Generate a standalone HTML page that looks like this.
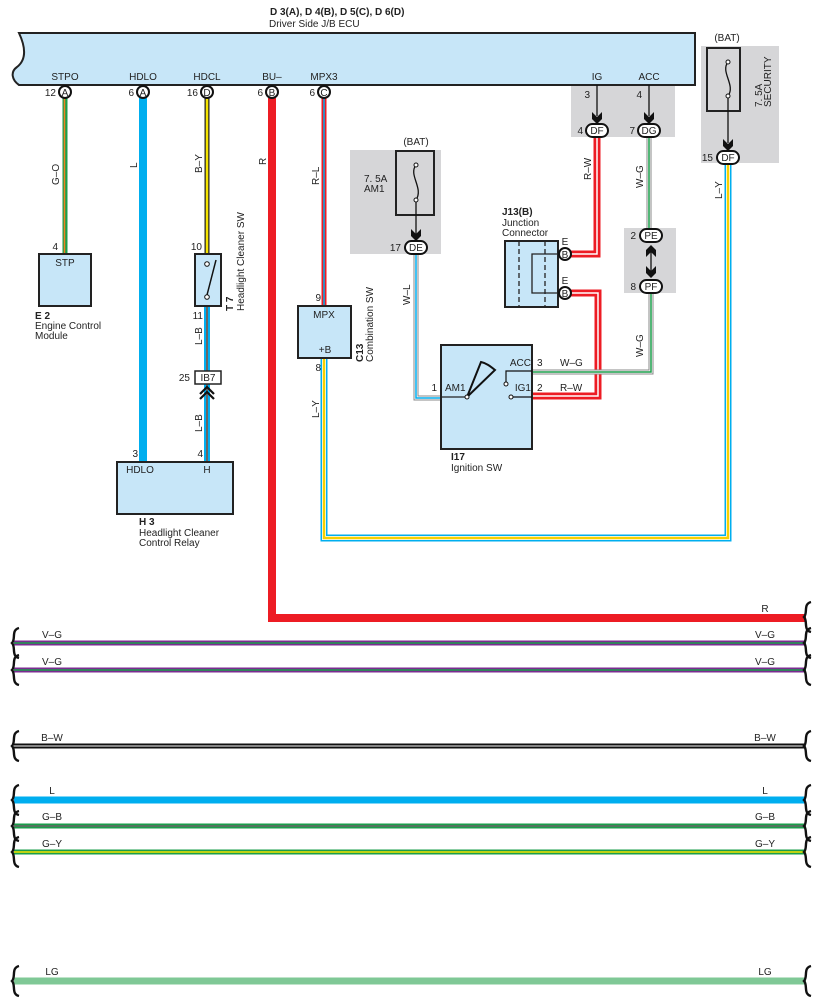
<!DOCTYPE html>
<html><head><meta charset="utf-8"><style>
html,body{margin:0;padding:0;background:#fff}
svg{display:block}
text{font-family:"Liberation Sans",sans-serif;font-size:10px;fill:#222}
.b{font-weight:bold}
</style></head><body>
<svg width="818" height="1003" viewBox="0 0 818 1003" xmlns="http://www.w3.org/2000/svg">
<defs>
<path id="brace" d="M6,-15 C-2,-13 3,-4 -1,0 C3,4 -2,13 6,15" fill="none" stroke="#111" stroke-width="2.4"/>
<path id="arr" d="M-5,-8 L0,-3 L5,-8 L5,-1 L0,4 L-5,-1 Z" fill="#111"/>
<path id="arrUp" d="M-5,8 L0,3 L5,8 L5,1 L0,-4 L-5,1 Z" fill="#111"/>
</defs>
<!-- gray boxes -->
<rect x="571" y="85" width="104" height="52" fill="#d6d6d8"/>
<rect x="701" y="46" width="78" height="117" fill="#d6d6d8"/>
<rect x="350" y="150" width="91" height="104" fill="#d6d6d8"/>
<rect x="624" y="228" width="52" height="65" fill="#d6d6d8"/>

<!-- ECU -->
<path d="M19,33 H695 V85 H19 C12,80 10,72 17,67 C26,60 26,48 19,33 Z" fill="#c7e6f8" stroke="#222" stroke-width="2"/>
<text x="270" y="15" class="b">D 3(A), D 4(B), D 5(C), D 6(D)</text>
<text x="269" y="27">Driver Side J/B ECU</text>
<g text-anchor="middle">
<text x="65" y="80">STPO</text><text x="143" y="80">HDLO</text><text x="207" y="80">HDCL</text>
<text x="272" y="80">BU–</text><text x="324" y="80">MPX3</text><text x="597" y="80">IG</text><text x="649" y="80">ACC</text>
</g>

<!-- wires from ECU -->
<line x1="65" y1="98" x2="65" y2="253" stroke="#1a9e4a" stroke-width="5"/>
<line x1="64.5" y1="98" x2="64.5" y2="253" stroke="#f08020" stroke-width="1.5"/>
<line x1="143" y1="98" x2="143" y2="461" stroke="#00aeef" stroke-width="8"/>
<line x1="207" y1="98" x2="207" y2="253" stroke="#222" stroke-width="5"/>
<line x1="207" y1="98" x2="207" y2="253" stroke="#f5e400" stroke-width="2.5"/>
<line x1="207" y1="306" x2="207" y2="461" stroke="#00aeef" stroke-width="6"/>
<line x1="207" y1="306" x2="207" y2="461" stroke="#666" stroke-width="2"/>
<path d="M272,98 V618 H806" fill="none" stroke="#ed1c24" stroke-width="8"/>
<line x1="324" y1="98" x2="324" y2="305" stroke="#ed1c24" stroke-width="5"/>
<line x1="324" y1="98" x2="324" y2="305" stroke="#00aeef" stroke-width="1.5"/>
<!-- L-Y -->
<path d="M324,358 V538 H728 V163" fill="none" stroke="#00aeef" stroke-width="7"/>
<path d="M324,358 V538 H728 V163" fill="none" stroke="#fff" stroke-width="4"/>
<path d="M324,358 V538 H728 V163" fill="none" stroke="#f5d000" stroke-width="2.5"/>
<!-- R-W -->
<path d="M597,137 V254 H570 M570,293 H598 V396 H532" fill="none" stroke="#ed1c24" stroke-width="7"/>
<path d="M597,137 V254 H570 M570,293 H598 V396 H532" fill="none" stroke="#fff" stroke-width="1.5"/>
<!-- W-G -->
<path d="M649,137 V228 M651,293 V372 H532" fill="none" stroke="#888" stroke-width="5"/>
<path d="M649,137 V228 M651,293 V372 H532" fill="none" stroke="#fff" stroke-width="3"/>
<path d="M649,137 V228 M651,293 V372 H532" fill="none" stroke="#1a9e4a" stroke-width="1.5"/>
<!-- W-L -->
<path d="M416,254 V398 H441" fill="none" stroke="#888" stroke-width="5"/>
<path d="M416,254 V398 H441" fill="none" stroke="#fff" stroke-width="3"/>
<path d="M416,254 V398 H441" fill="none" stroke="#00aeef" stroke-width="1.5"/>

<!-- pins on ECU -->
<g fill="#fff" stroke="#111" stroke-width="2">
<circle cx="65" cy="92" r="6"/><circle cx="143" cy="92" r="6"/><circle cx="207" cy="92" r="6"/><circle cx="272" cy="92" r="6"/><circle cx="324" cy="92" r="6"/>
</g>
<g text-anchor="middle" font-size="9">
<text x="65" y="96">A</text><text x="143" y="96">A</text><text x="207" y="96">D</text><text x="272" y="96">B</text><text x="324" y="96">C</text>
</g>
<g text-anchor="end">
<text x="56" y="96">12</text><text x="134" y="96">6</text><text x="198" y="96">16</text><text x="263" y="96">6</text><text x="315" y="96">6</text>
</g>

<!-- wire labels vertical -->
<g>
<text transform="translate(59,185) rotate(-90)">G–O</text>
<text transform="translate(137,168) rotate(-90)">L</text>
<text transform="translate(202,173) rotate(-90)">B–Y</text>
<text transform="translate(266,165) rotate(-90)">R</text>
<text transform="translate(319,185) rotate(-90)">R–L</text>
<text transform="translate(202,345) rotate(-90)">L–B</text>
<text transform="translate(202,432) rotate(-90)">L–B</text>
<text transform="translate(319,418) rotate(-90)">L–Y</text>
<text transform="translate(591,180) rotate(-90)">R–W</text>
<text transform="translate(643,188) rotate(-90)">W–G</text>
<text transform="translate(643,357) rotate(-90)">W–G</text>
<text transform="translate(410,305) rotate(-90)">W–L</text>
<text transform="translate(722,199) rotate(-90)">L–Y</text>
</g>

<!-- E2 -->
<rect x="39" y="254" width="52" height="52" fill="#c7e6f8" stroke="#222" stroke-width="2"/>
<text x="65" y="266" text-anchor="middle">STP</text>
<text x="58" y="250" text-anchor="end">4</text>
<text x="35" y="319" class="b">E 2</text>
<text x="35" y="329">Engine Control</text><text x="35" y="339">Module</text>

<!-- T7 -->
<rect x="195" y="254" width="26" height="52" fill="#c7e6f8" stroke="#222" stroke-width="2"/>
<circle cx="207" cy="264" r="2.3" fill="#fff" stroke="#111"/><circle cx="207" cy="297" r="2.3" fill="#fff" stroke="#111"/>
<line x1="207" y1="295" x2="216" y2="260" stroke="#111" stroke-width="1.5"/>
<text x="202" y="250" text-anchor="end">10</text>
<text x="203" y="319" text-anchor="end">11</text>
<text transform="translate(233,311) rotate(-90)" class="b">T 7</text>
<text transform="translate(244,311) rotate(-90)">Headlight Cleaner SW</text>

<!-- IB7 -->
<rect x="195" y="371" width="26" height="13" fill="#fff" stroke="#222" stroke-width="1.5"/>
<text x="208" y="381" text-anchor="middle">IB7</text>
<text x="190" y="381" text-anchor="end">25</text>
<path d="M200,394 L207,387 L214,394 M200,399 L207,392 L214,399" fill="none" stroke="#111" stroke-width="2.2"/>

<!-- H3 -->
<rect x="117" y="462" width="116" height="52" fill="#c7e6f8" stroke="#222" stroke-width="2"/>
<text x="140" y="473" text-anchor="middle">HDLO</text><text x="207" y="473" text-anchor="middle">H</text>
<text x="138" y="457" text-anchor="end">3</text><text x="203" y="457" text-anchor="end">4</text>
<text x="139" y="525" class="b">H 3</text>
<text x="139" y="536">Headlight Cleaner</text><text x="139" y="546">Control Relay</text>

<!-- C13 -->
<rect x="298" y="306" width="53" height="52" fill="#c7e6f8" stroke="#222" stroke-width="2"/>
<text x="324" y="318" text-anchor="middle">MPX</text><text x="325" y="353" text-anchor="middle">+B</text>
<text x="321" y="301" text-anchor="end">9</text><text x="321" y="371" text-anchor="end">8</text>
<text transform="translate(363,362) rotate(-90)" class="b">C13</text>
<text transform="translate(373,362) rotate(-90)">Combination SW</text>

<!-- AM1 fuse -->
<text x="416" y="145" text-anchor="middle">(BAT)</text>
<rect x="396" y="151" width="38" height="64" fill="none" stroke="#222" stroke-width="2"/>
<text x="364" y="182">7. 5A</text><text x="364" y="192">AM1</text>
<path d="M416,165 C408,175 424,188 416,200" fill="none" stroke="#111" stroke-width="1.3"/>
<circle cx="416" cy="165" r="2" fill="#fff" stroke="#111"/><circle cx="416" cy="200" r="2" fill="#fff" stroke="#111"/>
<line x1="416" y1="202" x2="416" y2="236" stroke="#111" stroke-width="1.3"/>
<use href="#arr" x="416" y="237"/>
<rect x="405" y="241" width="22" height="13" rx="6.5" fill="#fff" stroke="#111" stroke-width="2"/>
<text x="416" y="251" text-anchor="middle">DE</text><text x="401" y="251" text-anchor="end">17</text>

<!-- security fuse -->
<text x="727" y="41" text-anchor="middle">(BAT)</text>
<rect x="707" y="48" width="33" height="63" fill="none" stroke="#222" stroke-width="2"/>
<path d="M728,62 C720,72 736,85 728,96" fill="none" stroke="#111" stroke-width="1.3"/>
<circle cx="728" cy="62" r="2" fill="#fff" stroke="#111"/><circle cx="728" cy="96" r="2" fill="#fff" stroke="#111"/>
<line x1="728" y1="98" x2="728" y2="143" stroke="#111" stroke-width="1.3"/>
<use href="#arr" x="728" y="147"/>
<rect x="717" y="151" width="22" height="13" rx="6.5" fill="#fff" stroke="#111" stroke-width="2"/>
<text x="728" y="161" text-anchor="middle">DF</text><text x="713" y="161" text-anchor="end">15</text>
<text transform="translate(762,107) rotate(-90)">7. 5A</text>
<text transform="translate(771,107) rotate(-90)">SECURITY</text>

<!-- IG ACC connectors -->
<line x1="597" y1="85" x2="597" y2="116" stroke="#111" stroke-width="1.3"/>
<line x1="649" y1="85" x2="649" y2="116" stroke="#111" stroke-width="1.3"/>
<use href="#arr" x="597" y="120"/>
<use href="#arr" x="649" y="120"/>
<text x="590" y="98" text-anchor="end">3</text><text x="642" y="98" text-anchor="end">4</text>
<rect x="586" y="124" width="22" height="13" rx="6.5" fill="#fff" stroke="#111" stroke-width="2"/>
<rect x="638" y="124" width="22" height="13" rx="6.5" fill="#fff" stroke="#111" stroke-width="2"/>
<text x="597" y="134" text-anchor="middle">DF</text><text x="649" y="134" text-anchor="middle">DG</text>
<text x="583" y="134" text-anchor="end">4</text><text x="635" y="134" text-anchor="end">7</text>

<!-- PE PF -->
<rect x="640" y="229" width="22" height="13" rx="6.5" fill="#fff" stroke="#111" stroke-width="2"/>
<rect x="640" y="280" width="22" height="13" rx="6.5" fill="#fff" stroke="#111" stroke-width="2"/>
<text x="651" y="239" text-anchor="middle">PE</text><text x="651" y="290" text-anchor="middle">PF</text>
<text x="636" y="239" text-anchor="end">2</text><text x="636" y="290" text-anchor="end">8</text>
<line x1="651" y1="250" x2="651" y2="272" stroke="#111" stroke-width="1.3"/>
<use href="#arrUp" x="651" y="249"/>
<use href="#arr" x="651" y="274"/>

<!-- J13 -->
<text x="502" y="215" class="b">J13(B)</text>
<text x="502" y="226">Junction</text><text x="502" y="236">Connector</text>
<rect x="505" y="241" width="53" height="66" fill="#c7e6f8" stroke="#222" stroke-width="2"/>
<line x1="519" y1="241" x2="519" y2="307" stroke="#222" stroke-width="1.3" stroke-dasharray="5,3"/>
<line x1="545" y1="241" x2="545" y2="307" stroke="#222" stroke-width="1.3" stroke-dasharray="5,3"/>
<path d="M560,254 H532 V293 H560" fill="none" stroke="#222" stroke-width="1.3"/>
<circle cx="565" cy="254" r="6" fill="#fff" stroke="#111" stroke-width="2"/>
<circle cx="565" cy="293" r="6" fill="#fff" stroke="#111" stroke-width="2"/>
<text x="565" y="258" text-anchor="middle" font-size="9">B</text><text x="565" y="297" text-anchor="middle" font-size="9">B</text>
<text x="565" y="245" text-anchor="middle">E</text><text x="565" y="284" text-anchor="middle">E</text>

<!-- I17 -->
<rect x="441" y="345" width="91" height="104" fill="#c7e6f8" stroke="#222" stroke-width="2"/>
<text x="437" y="391" text-anchor="end">1</text><text x="445" y="391">AM1</text>
<text x="531" y="366" text-anchor="end">ACC</text><text x="531" y="391" text-anchor="end">IG1</text>
<text x="537" y="366">3</text><text x="537" y="391">2</text>
<text x="560" y="366">W–G</text><text x="560" y="391">R–W</text>
<line x1="441" y1="397" x2="466" y2="397" stroke="#222" stroke-width="1.2"/>
<path d="M467,397 L481,362 C486,363 490,366 495,370 Z" fill="none" stroke="#111" stroke-width="2"/>
<circle cx="467" cy="397" r="2" fill="#fff" stroke="#111"/>
<path d="M506,384 V371 H532" fill="none" stroke="#111" stroke-width="1.2"/>
<circle cx="506" cy="384" r="2" fill="#fff" stroke="#111"/>
<line x1="513" y1="397" x2="532" y2="397" stroke="#111" stroke-width="1.2"/>
<circle cx="511" cy="397" r="2" fill="#fff" stroke="#111"/>
<text x="451" y="460" class="b">I17</text><text x="451" y="471">Ignition SW</text>

<!-- bottom wires -->
<text x="765" y="612" text-anchor="middle">R</text>
<g>
<line x1="14" y1="643" x2="806" y2="643" stroke="#7b2c91" stroke-width="5"/>
<line x1="14" y1="643" x2="806" y2="643" stroke="#1a9e4a" stroke-width="1.5"/>
<line x1="14" y1="670" x2="806" y2="670" stroke="#7b2c91" stroke-width="5"/>
<line x1="14" y1="670" x2="806" y2="670" stroke="#1a9e4a" stroke-width="1.5"/>
<line x1="14" y1="746" x2="806" y2="746" stroke="#111" stroke-width="5"/>
<line x1="14" y1="746" x2="806" y2="746" stroke="#ccc" stroke-width="1.3"/>
<line x1="14" y1="800" x2="806" y2="800" stroke="#00aeef" stroke-width="7"/>
<line x1="14" y1="826" x2="806" y2="826" stroke="#1a9e4a" stroke-width="5"/>
<line x1="14" y1="826" x2="806" y2="826" stroke="#666" stroke-width="1.5"/>
<line x1="14" y1="852" x2="806" y2="852" stroke="#1a9e4a" stroke-width="5"/>
<line x1="14" y1="852" x2="806" y2="852" stroke="#f5e400" stroke-width="1.5"/>
<line x1="14" y1="981" x2="806" y2="981" stroke="#7fc896" stroke-width="7"/>
</g>
<g text-anchor="middle">
<text x="52" y="638">V–G</text><text x="765" y="638">V–G</text>
<text x="52" y="665">V–G</text><text x="765" y="665">V–G</text>
<text x="52" y="741">B–W</text><text x="765" y="741">B–W</text>
<text x="52" y="794">L</text><text x="765" y="794">L</text>
<text x="52" y="820">G–B</text><text x="765" y="820">G–B</text>
<text x="52" y="847">G–Y</text><text x="765" y="847">G–Y</text>
<text x="52" y="975">LG</text><text x="765" y="975">LG</text>
</g>
<g>
<use href="#brace" x="13" y="643"/><use href="#brace" x="13" y="670"/><use href="#brace" x="13" y="746"/>
<use href="#brace" x="13" y="800"/><use href="#brace" x="13" y="826"/><use href="#brace" x="13" y="852"/><use href="#brace" x="13" y="981"/>
<use href="#brace" x="805" y="617"/><use href="#brace" x="805" y="643"/><use href="#brace" x="805" y="670"/><use href="#brace" x="805" y="746"/>
<use href="#brace" x="805" y="800"/><use href="#brace" x="805" y="826"/><use href="#brace" x="805" y="852"/><use href="#brace" x="805" y="981"/>
</g>
</svg>
</body></html>
